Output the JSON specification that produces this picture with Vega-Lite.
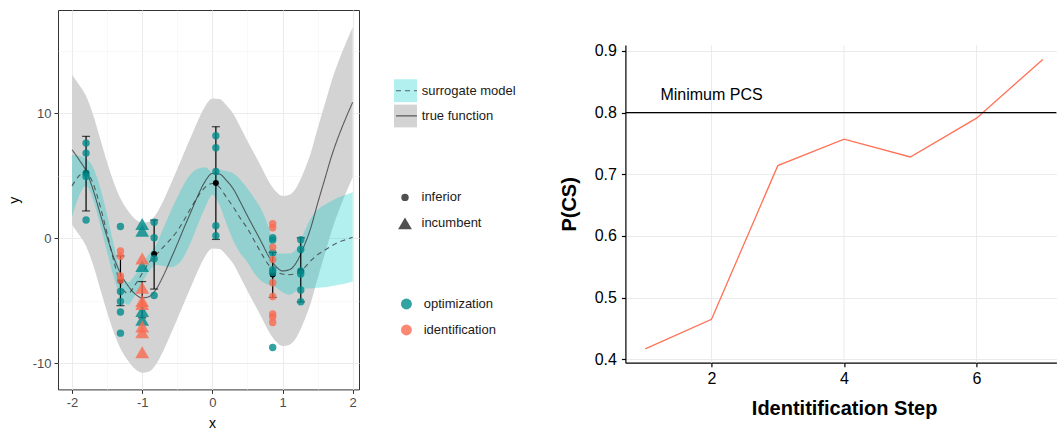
{
  "$schema": "https://vega.github.io/schema/vega-lite/v6.json",
  "background": "white",
  "padding": {"left": 6, "top": 9, "right": 0, "bottom": 0},
  "bounds": "flush",
  "spacing": 266.4,
  "config": {
    "font": "Liberation Sans",
    "view": {"stroke": null},
    "locale": {"number": {"decimal": ".", "thousands": ",", "grouping": [3], "currency": ["$", ""], "minus": "-"}}
  },
  "datasets": {
    "curve": [
      {"x": -2.0, "f": 7.1, "flo": 1.1, "fhi": 13.1, "s": 4.2, "slo": 1.7, "shi": 6.7},
      {"x": -1.9, "f": 6.3, "flo": 0.3, "fhi": 12.3, "s": 5.0, "slo": 3.4, "shi": 6.6},
      {"x": -1.8, "f": 5.4, "flo": -0.6, "fhi": 11.4, "s": 5.3, "slo": 4.2, "shi": 6.4},
      {"x": -1.7, "f": 3.9, "flo": -2.1, "fhi": 9.9, "s": 4.4, "slo": 3.1, "shi": 5.7},
      {"x": -1.6, "f": 2.0, "flo": -4.0, "fhi": 8.0, "s": 2.6, "slo": 1.1, "shi": 4.1},
      {"x": -1.5, "f": 0.1, "flo": -5.9, "fhi": 6.1, "s": 0.4, "slo": -1.1, "shi": 1.9},
      {"x": -1.4, "f": -1.6, "flo": -7.6, "fhi": 4.4, "s": -1.9, "slo": -3.2, "shi": -0.6},
      {"x": -1.3, "f": -2.9, "flo": -8.9, "fhi": 3.1, "s": -3.8, "slo": -4.8, "shi": -2.8},
      {"x": -1.2, "f": -3.8, "flo": -9.8, "fhi": 2.2, "s": -4.4, "slo": -5.3, "shi": -3.5},
      {"x": -1.1, "f": -4.45, "flo": -10.45, "fhi": 1.55, "s": -3.7, "slo": -4.5, "shi": -2.9},
      {"x": -1.0, "f": -4.75, "flo": -10.75, "fhi": 1.25, "s": -2.8, "slo": -3.5, "shi": -2.1},
      {"x": -0.9, "f": -4.65, "flo": -10.65, "fhi": 1.35, "s": -1.9, "slo": -2.6, "shi": -1.2},
      {"x": -0.8, "f": -4.05, "flo": -10.05, "fhi": 1.95, "s": -1.3, "slo": -2.1, "shi": -0.5},
      {"x": -0.7, "f": -3.0, "flo": -9.0, "fhi": 3.0, "s": -0.7, "slo": -2.2, "shi": 0.8},
      {"x": -0.6, "f": -1.75, "flo": -7.75, "fhi": 4.25, "s": -0.1, "slo": -2.3, "shi": 2.1},
      {"x": -0.5, "f": -0.45, "flo": -6.45, "fhi": 5.55, "s": 0.6, "slo": -2.1, "shi": 3.3},
      {"x": -0.4, "f": 0.9, "flo": -5.1, "fhi": 6.9, "s": 1.5, "slo": -1.4, "shi": 4.4},
      {"x": -0.3, "f": 2.2, "flo": -3.8, "fhi": 8.2, "s": 2.5, "slo": -0.2, "shi": 5.2},
      {"x": -0.2, "f": 3.5, "flo": -2.5, "fhi": 9.5, "s": 3.4, "slo": 1.2, "shi": 5.6},
      {"x": -0.1, "f": 4.6, "flo": -1.4, "fhi": 10.6, "s": 4.1, "slo": 2.5, "shi": 5.7},
      {"x": 0.0, "f": 5.2, "flo": -0.8, "fhi": 11.2, "s": 4.4, "slo": 3.5, "shi": 5.3},
      {"x": 0.1, "f": 5.15, "flo": -0.85, "fhi": 11.15, "s": 4.1, "slo": 2.7, "shi": 5.5},
      {"x": 0.2, "f": 4.65, "flo": -1.35, "fhi": 10.65, "s": 3.3, "slo": 1.2, "shi": 5.4},
      {"x": 0.3, "f": 3.95, "flo": -2.05, "fhi": 9.95, "s": 2.5, "slo": -0.2, "shi": 5.2},
      {"x": 0.4, "f": 2.9, "flo": -3.1, "fhi": 8.9, "s": 1.6, "slo": -1.2, "shi": 4.7},
      {"x": 0.5, "f": 1.8, "flo": -4.2, "fhi": 7.8, "s": 0.8, "slo": -1.9, "shi": 4.0},
      {"x": 0.6, "f": 0.75, "flo": -5.25, "fhi": 6.75, "s": -0.2, "slo": -2.8, "shi": 3.2},
      {"x": 0.7, "f": -0.3, "flo": -6.3, "fhi": 5.7, "s": -1.2, "slo": -3.4, "shi": 2.3},
      {"x": 0.8, "f": -1.4, "flo": -7.4, "fhi": 4.6, "s": -2.1, "slo": -3.7, "shi": 0.9},
      {"x": 0.9, "f": -2.2, "flo": -8.2, "fhi": 3.8, "s": -2.6, "slo": -3.9, "shi": -1.2},
      {"x": 1.0, "f": -2.6, "flo": -8.6, "fhi": 3.4, "s": -2.85, "slo": -4.3, "shi": -1.2},
      {"x": 1.1, "f": -2.5, "flo": -8.5, "fhi": 3.5, "s": -2.9, "slo": -4.5, "shi": -1.2},
      {"x": 1.2, "f": -1.9, "flo": -7.9, "fhi": 4.1, "s": -2.8, "slo": -4.2, "shi": -0.8},
      {"x": 1.3, "f": -0.7, "flo": -6.7, "fhi": 5.3, "s": -2.4, "slo": -4.0, "shi": 0.4},
      {"x": 1.4, "f": 0.8, "flo": -5.2, "fhi": 6.8, "s": -1.8, "slo": -4.0, "shi": 1.6},
      {"x": 1.5, "f": 2.8, "flo": -3.2, "fhi": 8.8, "s": -1.3, "slo": -3.95, "shi": 2.3},
      {"x": 1.6, "f": 4.7, "flo": -1.3, "fhi": 10.7, "s": -0.95, "slo": -3.9, "shi": 2.7},
      {"x": 1.7, "f": 6.6, "flo": 0.6, "fhi": 12.6, "s": -0.6, "slo": -3.8, "shi": 3.0},
      {"x": 1.8, "f": 8.2, "flo": 2.2, "fhi": 14.2, "s": -0.3, "slo": -3.7, "shi": 3.3},
      {"x": 1.9, "f": 9.6, "flo": 3.6, "fhi": 15.6, "s": -0.1, "slo": -3.6, "shi": 3.5},
      {"x": 2.0, "f": 10.9, "flo": 4.9, "fhi": 16.9, "s": 0.1, "slo": -3.45, "shi": 3.7}
    ],
    "pts": [
      {"x": -1.8, "y": 7.63, "phase": "optimization", "kind": "inferior"},
      {"x": -1.8, "y": 6.83, "phase": "optimization", "kind": "inferior"},
      {"x": -1.8, "y": 5.2, "phase": "optimization", "kind": "inferior"},
      {"x": -1.8, "y": 4.96, "phase": "optimization", "kind": "inferior"},
      {"x": -1.8, "y": 1.47, "phase": "optimization", "kind": "inferior"},
      {"x": -1.31, "y": 0.96, "phase": "optimization", "kind": "inferior"},
      {"x": -1.31, "y": -4.24, "phase": "optimization", "kind": "inferior"},
      {"x": -1.31, "y": -5.04, "phase": "optimization", "kind": "inferior"},
      {"x": -1.31, "y": -5.88, "phase": "optimization", "kind": "inferior"},
      {"x": -1.31, "y": -7.58, "phase": "optimization", "kind": "inferior"},
      {"x": -1.31, "y": -1.0, "phase": "identification", "kind": "inferior"},
      {"x": -1.31, "y": -1.42, "phase": "identification", "kind": "inferior"},
      {"x": -1.31, "y": -3.0, "phase": "identification", "kind": "inferior"},
      {"x": -1.31, "y": -3.32, "phase": "identification", "kind": "inferior"},
      {"x": -1.0, "y": 1.15, "phase": "optimization", "kind": "incumbent"},
      {"x": -1.0, "y": 0.62, "phase": "optimization", "kind": "incumbent"},
      {"x": -1.0, "y": -2.2, "phase": "optimization", "kind": "incumbent"},
      {"x": -1.0, "y": -5.8, "phase": "optimization", "kind": "incumbent"},
      {"x": -1.0, "y": -6.5, "phase": "optimization", "kind": "incumbent"},
      {"x": -1.0, "y": -1.6, "phase": "identification", "kind": "incumbent"},
      {"x": -1.0, "y": -3.95, "phase": "identification", "kind": "incumbent"},
      {"x": -1.0, "y": -5.0, "phase": "identification", "kind": "incumbent"},
      {"x": -1.0, "y": -5.25, "phase": "identification", "kind": "incumbent"},
      {"x": -1.0, "y": -7.05, "phase": "identification", "kind": "incumbent"},
      {"x": -1.0, "y": -7.5, "phase": "identification", "kind": "incumbent"},
      {"x": -1.0, "y": -9.1, "phase": "identification", "kind": "incumbent"},
      {"x": -0.83, "y": 1.3, "phase": "optimization", "kind": "inferior"},
      {"x": -0.83, "y": 0.06, "phase": "optimization", "kind": "inferior"},
      {"x": -0.83, "y": -1.62, "phase": "optimization", "kind": "inferior"},
      {"x": -0.83, "y": -4.56, "phase": "optimization", "kind": "inferior"},
      {"x": 0.05, "y": 8.22, "phase": "optimization", "kind": "inferior"},
      {"x": 0.05, "y": 7.26, "phase": "optimization", "kind": "inferior"},
      {"x": 0.05, "y": 5.36, "phase": "optimization", "kind": "inferior"},
      {"x": 0.05, "y": 1.02, "phase": "optimization", "kind": "inferior"},
      {"x": 0.05, "y": 0.22, "phase": "optimization", "kind": "inferior"},
      {"x": 0.86, "y": 0.05, "phase": "optimization", "kind": "inferior"},
      {"x": 0.86, "y": -0.13, "phase": "optimization", "kind": "inferior"},
      {"x": 0.86, "y": -1.15, "phase": "optimization", "kind": "inferior"},
      {"x": 0.86, "y": -2.5, "phase": "optimization", "kind": "inferior"},
      {"x": 0.86, "y": -2.72, "phase": "optimization", "kind": "inferior"},
      {"x": 0.86, "y": -8.73, "phase": "optimization", "kind": "inferior"},
      {"x": 0.86, "y": 1.18, "phase": "identification", "kind": "inferior"},
      {"x": 0.86, "y": 0.85, "phase": "identification", "kind": "inferior"},
      {"x": 0.86, "y": -0.7, "phase": "identification", "kind": "inferior"},
      {"x": 0.86, "y": -1.68, "phase": "identification", "kind": "inferior"},
      {"x": 0.86, "y": -3.55, "phase": "identification", "kind": "inferior"},
      {"x": 0.86, "y": -4.65, "phase": "identification", "kind": "inferior"},
      {"x": 0.86, "y": -6.05, "phase": "identification", "kind": "inferior"},
      {"x": 0.86, "y": -6.28, "phase": "identification", "kind": "inferior"},
      {"x": 0.86, "y": -6.73, "phase": "identification", "kind": "inferior"},
      {"x": 1.26, "y": -0.1, "phase": "optimization", "kind": "inferior"},
      {"x": 1.26, "y": -0.88, "phase": "optimization", "kind": "inferior"},
      {"x": 1.26, "y": -2.6, "phase": "optimization", "kind": "inferior"},
      {"x": 1.26, "y": -2.85, "phase": "optimization", "kind": "inferior"},
      {"x": 1.26, "y": -4.12, "phase": "optimization", "kind": "inferior"},
      {"x": 1.26, "y": -5.06, "phase": "optimization", "kind": "inferior"}
    ],
    "bars": [
      {"x": -1.8, "m": 5.25, "lo": 2.2, "hi": 8.17, "kind": "inferior"},
      {"x": -1.31, "m": -3.38, "lo": -5.38, "hi": -1.4, "kind": "inferior"},
      {"x": -1.0, "m": -4.9, "lo": -6.35, "hi": -3.45, "kind": "incumbent"},
      {"x": -0.83, "m": -1.25, "lo": -4.05, "hi": 1.47, "kind": "inferior"},
      {"x": 0.05, "m": 4.43, "lo": -0.08, "hi": 8.94, "kind": "inferior"},
      {"x": 0.86, "m": -2.88, "lo": -4.72, "hi": -1.12, "kind": "inferior"},
      {"x": 1.26, "m": -2.62, "lo": -5.08, "hi": 0.05, "kind": "inferior"}
    ],
    "pcs": [
      {"step": 1, "pcs": 0.417},
      {"step": 2, "pcs": 0.465},
      {"step": 3, "pcs": 0.714},
      {"step": 4, "pcs": 0.757},
      {"step": 5, "pcs": 0.728},
      {"step": 6, "pcs": 0.791},
      {"step": 7, "pcs": 0.886}
    ],
    "stepgrid": [
      {"step": 2},
      {"step": 4},
      {"step": 6}
    ],
    "ref": [
      {"level": 0.8, "label": "Minimum PCS", "step": 2, "ly": 0.828}
    ]
  },
  "hconcat": [
    {
      "width": 301,
      "height": 379.4,
      "view": {"stroke": "#333333", "strokeWidth": 1},
      "resolve": {"axis": {"x": "independent", "y": "independent"}},
      "layer": [
        {
          "data": {"name": "curve"},
          "mark": {"type": "area", "interpolate": "monotone", "opacity": 1},
          "encoding": {
            "x": {"field": "x", "type": "quantitative",
                  "scale": {"domain": [-2.2, 2.09], "nice": false, "zero": false},
                  "axis": {"orient": "top", "values": [-1.5, -0.5, 0.5, 1.5], "grid": true, "gridColor": "#F3F3F3", "gridWidth": 0.6,
                           "labels": false, "ticks": false, "domain": false, "title": null}},
            "y": {"field": "flo", "type": "quantitative",
                  "scale": {"domain": [-12.08, 18.28], "nice": false, "zero": false},
                  "axis": {"orient": "right", "values": [-5, 5, 15], "grid": true, "gridColor": "#F3F3F3", "gridWidth": 0.6,
                           "labels": false, "ticks": false, "domain": false, "title": null}},
            "y2": {"field": "fhi"},
            "fill": {"datum": "true function", "type": "nominal",
                     "scale": {"domain": ["surrogate model", "true function"], "range": ["rgba(0,205,205,0.3)", "#D3D3D3"]},
                     "legend": {"orient": "none", "legendX": 336, "legendY": 69, "title": null, "padding": 0,
                                "symbolType": "square", "symbolSize": 529, "symbolStrokeWidth": 0, "symbolOpacity": 1,
                                "clipHeight": 23.5, "rowPadding": 1.2, "labelOffset": 4.7,
                                "labelFontSize": 13, "labelColor": "#1A1A1A", "zindex": 1}}
          }
        },
        {
          "data": {"name": "curve"},
          "mark": {"type": "area", "interpolate": "monotone", "opacity": 1},
          "encoding": {
            "x": {"field": "x", "type": "quantitative", "axis": null},
            "y": {"field": "slo", "type": "quantitative", "axis": null},
            "y2": {"field": "shi"},
            "fill": {"datum": "surrogate model", "type": "nominal"}
          }
        },
        {
          "data": {"name": "curve"},
          "mark": {"type": "line", "interpolate": "monotone", "color": "#333333", "opacity": 0.75, "strokeWidth": 1.1},
          "encoding": {
            "x": {"field": "x", "type": "quantitative",
                  "axis": {"orient": "bottom", "values": [-2, -1, 0, 1, 2], "grid": true, "gridColor": "#EBEBEB", "gridWidth": 1.1,
                           "domain": false, "tickColor": "#333333", "tickSize": 4, "tickWidth": 1,
                           "labelColor": "#4D4D4D", "labelFontSize": 13, "labelPadding": 3,
                           "title": "x", "titleFontSize": 14, "titleFontWeight": "normal", "titleColor": "#000000",
                           "titleBaseline": "alphabetic", "titleX": 154, "titleY": 38.3}},
            "y": {"field": "f", "type": "quantitative",
                  "axis": {"orient": "left", "values": [-10, 0, 10], "grid": true, "gridColor": "#EBEBEB", "gridWidth": 1.1,
                           "domain": false, "tickColor": "#333333", "tickSize": 4, "tickWidth": 1,
                           "labelColor": "#4D4D4D", "labelFontSize": 13, "labelPadding": 3,
                           "title": "y", "titleFontSize": 14, "titleFontWeight": "normal", "titleColor": "#000000",
                           "titleBaseline": "alphabetic", "titleX": -39.8, "titleY": 189.7}},
            "strokeDash": {"datum": "true function", "type": "nominal",
                           "scale": {"domain": ["true function", "surrogate model"], "range": [[1, 0], [5, 4]]},
                           "legend": {"orient": "none", "legendX": 337, "legendY": 69, "title": null, "padding": 0,
                                      "values": ["surrogate model", "true function"],
                                      "symbolType": "stroke", "symbolSize": 441, "symbolStrokeColor": "#333333",
                                      "symbolStrokeWidth": 1.2, "symbolOpacity": 0.7,
                                      "clipHeight": 23.5, "rowPadding": 1.2, "labelExpr": "''", "zindex": 2}}
          }
        },
        {
          "data": {"name": "curve"},
          "mark": {"type": "line", "interpolate": "monotone", "color": "#333333", "opacity": 0.75, "strokeWidth": 1.1},
          "encoding": {
            "x": {"field": "x", "type": "quantitative", "axis": null},
            "y": {"field": "s", "type": "quantitative", "axis": null},
            "strokeDash": {"datum": "surrogate model", "type": "nominal"}
          }
        },
        {
          "data": {"name": "bars"},
          "mark": {"type": "errorbar", "color": "black", "thickness": 1.2, "ticks": {"size": 8, "color": "black", "thickness": 1.2}},
          "encoding": {
            "x": {"field": "x", "type": "quantitative", "axis": null},
            "y": {"field": "lo", "type": "quantitative", "axis": null},
            "y2": {"field": "hi"}
          }
        },
        {
          "data": {"name": "bars"},
          "transform": [{"filter": "datum.kind == 'inferior'"}],
          "mark": {"type": "point", "filled": true, "color": "black", "size": 36, "opacity": 1},
          "encoding": {
            "x": {"field": "x", "type": "quantitative", "axis": null},
            "y": {"field": "m", "type": "quantitative", "axis": null}
          }
        },
        {
          "data": {"name": "pts"},
          "mark": {"type": "point", "filled": true, "opacity": 0.8, "strokeWidth": 0},
          "encoding": {
            "x": {"field": "x", "type": "quantitative", "axis": null},
            "y": {"field": "y", "type": "quantitative", "axis": null},
            "color": {"field": "phase", "type": "nominal",
                      "scale": {"domain": ["optimization", "identification"], "range": ["#008B8B", "#FA6A50"]},
                      "legend": {"orient": "none", "legendX": 341.9, "legendY": 284, "title": null, "padding": 0,
                                 "symbolType": "circle", "symbolSize": 120, "symbolOpacity": 0.8, "symbolStrokeWidth": 0,
                                 "clipHeight": 20, "rowPadding": 6, "labelOffset": 10.8,
                                 "labelFontSize": 13, "labelColor": "#1A1A1A"}},
            "shape": {"field": "kind", "type": "nominal",
                      "scale": {"domain": ["inferior", "incumbent"], "range": ["circle", "triangle-up"]},
                      "legend": {"orient": "none", "legendX": 340, "legendY": 177.4, "title": null, "padding": 0,
                                 "symbolFillColor": "#3D3D3D", "symbolStrokeWidth": 0, "symbolOpacity": 0.9,
                                 "clipHeight": 20, "rowPadding": 6, "labelOffset": 9.5,
                                 "labelFontSize": 13, "labelColor": "#1A1A1A"}},
            "size": {"field": "kind", "type": "nominal",
                     "scale": {"domain": ["inferior", "incumbent"], "range": [55, 190]},
                     "legend": {"orient": "none", "legendX": 340, "legendY": 177.4, "title": null, "padding": 0,
                                "symbolFillColor": "#3D3D3D", "symbolStrokeWidth": 0, "symbolOpacity": 0.9,
                                "clipHeight": 20, "rowPadding": 6, "labelOffset": 9.5,
                                "labelFontSize": 13, "labelColor": "#1A1A1A"}}
          }
        }
      ]
    },
    {
      "width": 431,
      "height": 352.7,
      "view": {"stroke": null},
      "layer": [
        {
          "data": {"name": "stepgrid"},
          "mark": {"type": "rule", "color": "#EBEBEB", "strokeWidth": 1},
          "encoding": {
            "x": {"field": "step", "type": "quantitative",
                  "scale": {"domain": [0.7, 7.205], "nice": false, "zero": false},
                  "axis": {"values": [2, 4, 6], "grid": false,
                           "domainColor": "black", "domainWidth": 1.2, "tickColor": "black", "tickSize": 4, "tickWidth": 1.2,
                           "labelColor": "black", "labelFontSize": 16, "labelPadding": 4,
                           "title": "Identitification Step", "titleFontSize": 20, "titleFontWeight": "bold", "titleColor": "black",
                           "titleBaseline": "alphabetic", "titleX": 218.7, "titleY": 51.6}},
            "y": {"datum": 0.3946, "type": "quantitative",
                  "scale": {"domain": [0.3946, 0.9095], "range": [352.7, 35], "nice": false, "zero": false},
                  "axis": {"values": [0.4, 0.5, 0.6, 0.7, 0.8, 0.9], "format": ".1f", "grid": true, "gridColor": "#EBEBEB", "gridWidth": 1,
                           "domainColor": "black", "domainWidth": 1.2, "tickColor": "black", "tickSize": 4, "tickWidth": 1.2,
                           "labelColor": "black", "labelFontSize": 16, "labelPadding": 5,
                           "title": "P(CS)", "titleFontSize": 20, "titleFontWeight": "bold", "titleColor": "black",
                           "titleBaseline": "alphabetic", "titleX": -49.7, "titleY": 193.85}},
            "y2": {"datum": 0.9095}
          }
        },
        {
          "data": {"name": "pcs"},
          "mark": {"type": "line", "color": "#FF7256", "strokeWidth": 1.3},
          "encoding": {
            "x": {"field": "step", "type": "quantitative",
                  "axis": {"values": [2, 4, 6], "grid": false,
                           "domainColor": "black", "domainWidth": 1.2, "tickColor": "black", "tickSize": 4, "tickWidth": 1.2,
                           "labelColor": "black", "labelFontSize": 16, "labelPadding": 4,
                           "title": "Identitification Step", "titleFontSize": 20, "titleFontWeight": "bold", "titleColor": "black",
                           "titleBaseline": "alphabetic", "titleX": 218.7, "titleY": 51.6}},
            "y": {"field": "pcs", "type": "quantitative",
                  "axis": {"values": [0.4, 0.5, 0.6, 0.7, 0.8, 0.9], "format": ".1f", "grid": true, "gridColor": "#EBEBEB", "gridWidth": 1,
                           "domainColor": "black", "domainWidth": 1.2, "tickColor": "black", "tickSize": 4, "tickWidth": 1.2,
                           "labelColor": "black", "labelFontSize": 16, "labelPadding": 5,
                           "title": "P(CS)", "titleFontSize": 20, "titleFontWeight": "bold", "titleColor": "black",
                           "titleBaseline": "alphabetic", "titleX": -49.7, "titleY": 193.85}}
          }
        },
        {
          "data": {"name": "ref"},
          "mark": {"type": "rule", "color": "black", "strokeWidth": 1.3},
          "encoding": {
            "y": {"field": "level", "type": "quantitative",
                  "axis": {"values": [0.4, 0.5, 0.6, 0.7, 0.8, 0.9], "format": ".1f", "grid": true, "gridColor": "#EBEBEB", "gridWidth": 1,
                           "domainColor": "black", "domainWidth": 1.2, "tickColor": "black", "tickSize": 4, "tickWidth": 1.2,
                           "labelColor": "black", "labelFontSize": 16, "labelPadding": 5,
                           "title": "P(CS)", "titleFontSize": 20, "titleFontWeight": "bold", "titleColor": "black",
                           "titleBaseline": "alphabetic", "titleX": -49.7, "titleY": 193.85}}
          }
        },
        {
          "data": {"name": "ref"},
          "mark": {"type": "text", "fontSize": 16, "color": "black", "align": "center", "baseline": "middle"},
          "encoding": {
            "x": {"field": "step", "type": "quantitative",
                  "axis": {"values": [2, 4, 6], "grid": false,
                           "domainColor": "black", "domainWidth": 1.2, "tickColor": "black", "tickSize": 4, "tickWidth": 1.2,
                           "labelColor": "black", "labelFontSize": 16, "labelPadding": 4,
                           "title": "Identitification Step", "titleFontSize": 20, "titleFontWeight": "bold", "titleColor": "black",
                           "titleBaseline": "alphabetic", "titleX": 218.7, "titleY": 51.6}},
            "y": {"field": "ly", "type": "quantitative",
                  "axis": {"values": [0.4, 0.5, 0.6, 0.7, 0.8, 0.9], "format": ".1f", "grid": true, "gridColor": "#EBEBEB", "gridWidth": 1,
                           "domainColor": "black", "domainWidth": 1.2, "tickColor": "black", "tickSize": 4, "tickWidth": 1.2,
                           "labelColor": "black", "labelFontSize": 16, "labelPadding": 5,
                           "title": "P(CS)", "titleFontSize": 20, "titleFontWeight": "bold", "titleColor": "black",
                           "titleBaseline": "alphabetic", "titleX": -49.7, "titleY": 193.85}},
            "text": {"field": "label"}
          }
        }
      ]
    }
  ]
}
